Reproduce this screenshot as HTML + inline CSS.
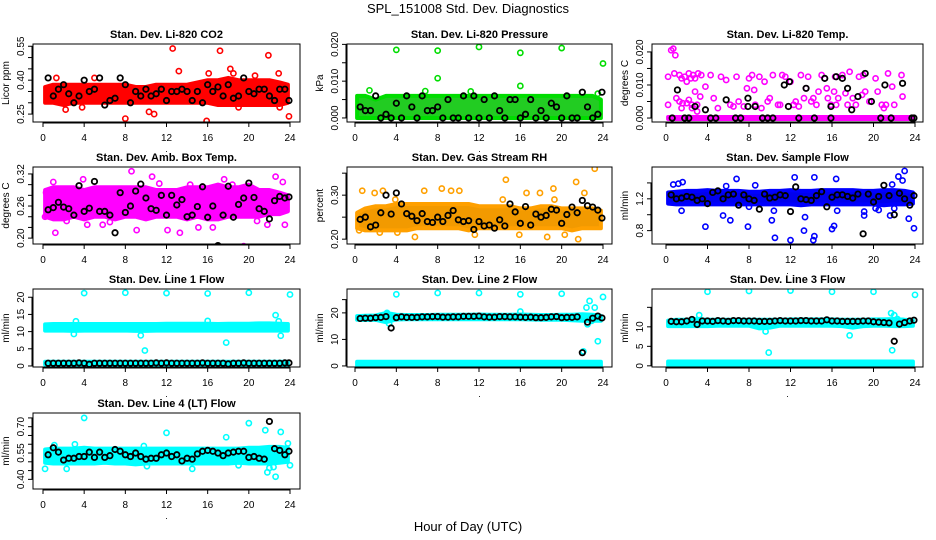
<!DOCTYPE html>
<html><head><meta charset="utf-8"><style>
html,body{margin:0;padding:0;background:#fff;}
svg{display:block;font-family:"Liberation Sans",sans-serif;}
</style></head><body>
<svg id="chart" width="936" height="540" viewBox="0 0 936 540">
<rect width="936" height="540" fill="#fff"/>
<text x="468" y="13" text-anchor="middle" font-size="13">SPL_151008  Std. Dev. Diagnostics</text>
<text x="468" y="531" text-anchor="middle" font-size="13">Hour of Day (UTC)</text>
</svg>
<script>
// ---------- data ----------
const bandHours = [0,1,2,3,4,5,6,7,8,9,10,11,12,13,14,15,16,17,18,19,20,21,22,23,24];
const xTicks = [0,4,8,12,16,20,24];

const co2Lo = [0.30,0.30,0.29,0.30,0.30,0.30,0.30,0.30,0.30,0.30,0.30,0.30,0.30,0.30,0.30,0.30,0.30,0.29,0.29,0.29,0.29,0.29,0.29,0.29,0.30];
const co2Hi = [0.37,0.38,0.38,0.38,0.38,0.38,0.38,0.38,0.38,0.37,0.37,0.38,0.38,0.38,0.38,0.39,0.40,0.40,0.41,0.40,0.40,0.40,0.40,0.39,0.38];
const co2OutX = [12.6,17.2,21.9,13.2,18.2,8,15.9,23.9,10.3,10.8,2.2,3.8,19,23,5,1.3,18.5,16.1,20.6,22.9];
const co2OutY = [0.54,0.53,0.51,0.44,0.45,0.23,0.22,0.24,0.26,0.25,0.27,0.28,0.28,0.28,0.41,0.41,0.43,0.43,0.42,0.43];
const co2Blk = [0.41,0.33,0.36,0.38,0.34,0.30,0.33,0.40,0.35,0.36,0.41,0.29,0.31,0.32,0.41,0.38,0.30,0.35,0.33,0.36,0.33,0.34,0.36,0.31,0.35,0.35,0.36,0.35,0.31,0.35,0.30,0.38,0.35,0.37,0.33,0.38,0.32,0.33,0.41,0.35,0.34,0.36,0.36,0.33,0.31,0.36,0.36,0.31];

const presLo = [0,0,0,0,0,0,0,0,0,0,0,0,0,0,0,0,0,0,0,0,0,0,0,0,0];
const presHi = [0.006,0.006,0.005,0.006,0.006,0.006,0.006,0.006,0.006,0.006,0.006,0.006,0.006,0.006,0.006,0.006,0.006,0.006,0.006,0.006,0.006,0.006,0.006,0.006,0.005];
const presOutX = [4,8,12,16,20,24,8,16,1.4,23.5,6.8,11.2];
const presOutY = [0.0185,0.0183,0.0193,0.0177,0.019,0.0148,0.0108,0.0087,0.0075,0.0066,0.0073,0.0072];
const presBlk = [0.003,0.002,0.002,0.006,0,0.001,0,0.004,0,0.006,0.003,0,0.006,0.002,0.002,0.003,0,0.005,0,0,0.006,0,0.006,0,0.005,0,0.006,0.002,0,0.005,0.005,0,0.001,0.005,0,0.002,0,0.004,0.003,0,0.006,0,0,0.007,0.003,0,0.001,0.007];

const tempLo = [-0.0003,-0.0003,-0.0003,-0.0003,-0.0003,-0.0003,-0.0003,-0.0003,-0.0003,-0.0003,-0.0003,-0.0003,-0.0003,-0.0003,-0.0003,-0.0003,-0.0003,-0.0003,-0.0003,-0.0003,-0.0003,-0.0003,-0.0003,-0.0003,-0.0003];
const tempHi = [0.0003,0.0003,0.0003,0.0003,0.0003,0.0003,0.0003,0.0003,0.0003,0.0003,0.0003,0.0003,0.0003,0.0003,0.0003,0.0003,0.0003,0.0003,0.0003,0.0003,0.0003,0.0003,0.0003,0.0003,0.0003];
const tempOutX = [0.5,0.7,0.9,0.2,0.2,0.8,1.3,1.5,1.8,2,2.2,2.4,2.6,2.8,3.1,3.4,1,1.3,1.6,2,2.2,2.5,3,1.5,2.5,3.3,3.8,4.3,4.6,5,5.3,5.8,6.2,6.5,6.8,7,7.5,7.8,8,8.3,8.6,9,9.5,9.8,10.3,10.8,11.2,11.5,12,12.3,12.8,13,13.3,13.7,14,14.5,15,15.3,15.6,15.9,16.3,16.6,17,17.3,17.7,18,18.3,18.6,18.9,19,19.2,20.2,20.4,20.8,21,21.4,21.8,22,22.7,22.8,14.7,15.5,16.4,3,13.5,16.2,2.8,8.5,9.2,10,11,12.5,14.2,17.5,19.6,21.2];
const tempOutY = [0.0205,0.021,0.019,0.0125,0.004,0.0135,0.013,0.012,0.0125,0.011,0.0135,0.012,0.013,0.012,0.0135,0.013,0.006,0.005,0.0045,0.0045,0.0055,0.004,0.004,0.003,0.003,0.0065,0.0095,0.013,0.006,0.003,0.0125,0.0115,0.004,0.0035,0.0125,0.005,0.0035,0.009,0.012,0.013,0.004,0.0125,0.011,0.005,0.013,0.004,0.013,0.0125,0.011,0.004,0.0035,0.013,0.006,0.0125,0.005,0.004,0.013,0.012,0.006,0.004,0.0125,0.006,0.013,0.0075,0.014,0.006,0.004,0.0125,0.007,0.013,0.008,0.012,0.008,0.004,0.003,0.0135,0.0095,0.004,0.013,0.0065,0.008,0.009,0.004,0.002,0.009,0.008,0.008,0.0085,0.003,0.006,0.004,0.005,0.006,0.004,0.005,0.004];
const tempBlkX = [0.6,1.1,1.8,2.2,2.8,3.8,4.3,4.8,5.8,6.7,7.2,7.9,7.9,8.6,9.3,9.8,10.3,11.4,11.9,11.8,12.8,13.5,14.3,15.3,15.9,15.9,16.4,17,17.5,17.9,18.5,19.2,19.8,20.7,21.1,21.7,22.8,23.7,24];
const tempBlkY = [0,0.0085,0,0,0.0035,0.0025,0,0,0.0055,0,0,0.006,0.0035,0.0035,0,0,0,0.01,0.011,0.0035,0,0.009,0,0.012,0.0035,0,0.0125,0.012,0.009,0.0025,0.0065,0.0135,0.005,0,0.01,0,0.0105,0,0];

const ambLo = [0.24,0.235,0.235,0.24,0.235,0.24,0.24,0.235,0.24,0.24,0.235,0.24,0.24,0.24,0.235,0.24,0.235,0.235,0.24,0.24,0.24,0.24,0.245,0.245,0.25];
const ambHi = [0.29,0.295,0.295,0.295,0.29,0.295,0.295,0.295,0.295,0.295,0.295,0.29,0.29,0.29,0.295,0.295,0.295,0.30,0.295,0.295,0.30,0.29,0.29,0.285,0.28];
const ambOutX = [1,0.3,3.9,8.6,10.6,17.6,22.6,23.3,1.2,4.3,9.1,12.1,13.3,15.1,16.5,19.5,21.8,23.5,0.2,5.8,14.3,18.4,2.3,6.5,11.3,20.8];
const ambOutY = [0.305,0.285,0.31,0.325,0.315,0.31,0.315,0.305,0.21,0.225,0.215,0.215,0.21,0.22,0.22,0.185,0.225,0.225,0.24,0.225,0.30,0.30,0.232,0.23,0.302,0.232];
const ambBlk = [0.253,0.257,0.267,0.258,0.255,0.243,0.298,0.25,0.256,0.306,0.25,0.25,0.243,0.21,0.285,0.248,0.26,0.288,0.301,0.275,0.255,0.252,0.28,0.243,0.28,0.262,0.272,0.24,0.243,0.259,0.296,0.239,0.26,0.186,0.243,0.297,0.239,0.263,0.275,0.303,0.276,0.255,0.25,0.236,0.27,0.278,0.275,0.277];

const rhLo = [0.225,0.22,0.22,0.22,0.22,0.22,0.225,0.225,0.225,0.225,0.225,0.22,0.225,0.225,0.225,0.225,0.225,0.225,0.225,0.225,0.225,0.22,0.225,0.225,0.225];
const rhHi = [0.26,0.27,0.275,0.275,0.28,0.28,0.28,0.28,0.28,0.28,0.28,0.28,0.275,0.275,0.275,0.275,0.27,0.27,0.275,0.275,0.27,0.27,0.27,0.27,0.265];
const rhOutX = [0.7,1.9,2.7,6.7,8.4,9.3,10.1,14.6,16.6,17.9,19.2,21.4,22.2,23.2,5.8,18.6,21.6,20.3,4.1,11.6,0.4,2.4,15.9,3.9,14.3,19.3];
const rhOutY = [0.31,0.305,0.31,0.31,0.315,0.31,0.31,0.335,0.305,0.305,0.315,0.33,0.305,0.36,0.205,0.205,0.2,0.21,0.215,0.21,0.22,0.215,0.21,0.29,0.29,0.29];
const rhBlk = [0.245,0.25,0.228,0.232,0.26,0.30,0.257,0.305,0.28,0.258,0.252,0.242,0.258,0.24,0.238,0.25,0.24,0.254,0.265,0.244,0.24,0.242,0.222,0.24,0.23,0.232,0.225,0.244,0.23,0.28,0.262,0.236,0.274,0.232,0.257,0.25,0.254,0.268,0.266,0.236,0.256,0.273,0.26,0.288,0.276,0.273,0.266,0.248];

const sfLo = [1.14,1.13,1.13,1.13,1.13,1.13,1.13,1.13,1.13,1.13,1.13,1.13,1.13,1.12,1.13,1.13,1.13,1.13,1.13,1.13,1.13,1.12,1.13,1.13,1.14];
const sfHi = [1.28,1.29,1.30,1.30,1.31,1.30,1.30,1.30,1.29,1.29,1.30,1.30,1.31,1.30,1.30,1.31,1.31,1.31,1.31,1.30,1.30,1.31,1.31,1.30,1.28];
const sfOutX = [0.7,1.2,1.6,5.8,6.8,8.6,12.4,14.3,16.4,21.8,22.4,22.8,23,3.8,5.5,6.2,7.9,10.2,10.5,12,13.4,13.3,14.2,14.3,16,16.2,19.1,20.5,21.6,23.4,23.9,1.5,10.4,16.5,19.1,20.2,8,22];
const sfOutY = [1.38,1.39,1.41,1.36,1.45,1.37,1.47,1.47,1.45,1.38,1.48,1.43,1.55,0.85,0.99,0.93,0.85,0.93,0.71,0.68,0.97,0.8,0.68,0.73,0.82,0.86,0.99,1.06,0.99,0.95,0.83,1.05,1.05,1.05,1.04,1.08,1.1,1.08];
const sfBlk = [1.25,1.2,1.21,1.23,1.22,1.18,1.2,1.14,1.28,1.3,1.2,1.25,1.26,1.12,1.25,1.2,1.18,1.07,1.26,1.21,1.22,1.25,1.24,1.04,1.35,1.2,1.19,1.18,1.24,1.29,1.1,1.22,1.25,1.25,1.23,1.21,1.26,0.76,1.26,1.16,1.23,1.37,1.24,1.0,1.27,1.2,1.12,1.24];

const l1Lo = [10.3,10.3,10.3,10.2,10.3,10.3,10.3,10.3,10.3,10.2,10.2,10.3,10.3,10.3,10.3,10.3,10.3,10.3,10.3,10.3,10.3,10.3,10.3,10.3,10.3];
const l1Hi = [12.1,12.2,12.2,12.2,12.2,12.2,12.2,12.2,12.2,12.2,12.2,12.2,12.3,12.3,12.3,12.3,12.3,12.2,12.3,12.3,12.3,12.4,12.4,12.3,12.2];
const l1ZeroLo = [0.4,0.4,0.4,0.4,0.4,0.4,0.4,0.4,0.4,0.4,0.4,0.4,0.4,0.4,0.4,0.4,0.4,0.4,0.4,0.4,0.4,0.4,0.4,0.4,0.4];
const l1ZeroHi = [1.2,1.2,1.2,1.2,1.2,1.2,1.2,1.2,1.2,1.2,1.2,1.2,1.2,1.2,1.2,1.2,1.2,1.2,1.2,1.2,1.2,1.2,1.2,1.2,1.2];
const l1OutX = [4,8,12,16,20,24,22.6,3,9.5,9.9,17.8,23.1,16,3.2,22.9];
const l1OutY = [21.2,21.3,21.2,21.1,21.3,20.8,14.8,9.3,8.9,4.5,6.8,8.8,13.1,13,13];
const l1Blk = [0.8,0.8,0.8,0.8,0.8,0.8,0.9,0.8,0.5,0.8,0.8,0.8,0.8,0.8,0.8,0.8,0.8,0.8,0.8,0.8,0.8,0.9,0.8,0.9,0.8,0.8,0.8,0.8,0.8,0.8,0.9,0.8,0.8,0.8,0.8,0.6,0.8,0.8,0.9,0.8,0.8,0.8,0.8,0.8,0.8,0.8,0.9,0.9];

const l2Lo = [17.4,17.3,17.4,16.5,17.5,17.6,17.6,17.6,17.6,17.6,17.6,17.6,17.6,17.6,17.6,17.6,17.6,17.5,17.4,17.4,17.4,17.2,17,17,17];
const l2Hi = [18.8,18.9,19.0,20.0,19.3,19.2,19.2,19.2,19.3,19.3,19.3,19.3,19.4,19.3,19.3,19.3,19.4,19.3,19.2,19.2,19.3,19.3,19.5,19.3,18.9];
const l2ZeroLo = [0,0,0,0,0,0,0,0,0,0,0,0,0,0,0,0,0,0,0,0,0,0,0,0,0];
const l2ZeroHi = [1.6,1.6,1.6,1.6,1.6,1.6,1.6,1.6,1.6,1.6,1.6,1.6,1.6,1.6,1.6,1.6,1.6,1.6,1.6,1.6,1.6,1.6,1.6,1.6,1.6];
const l2OutX = [4,8,12,16,20,24,22.1,22.7,23.2,22.4,23.5,3.1,3.3,22.5,22.9,16];
const l2OutY = [27,27.5,27.5,27,27.2,26,5.5,24.5,22,22,9.3,20,16,15.7,17,20.5];
const l2Blk = [17.9,18,18,18.2,18.3,18.6,14.3,18.2,18.5,18.3,18.3,18.3,18.5,18.5,18.6,18.6,18.4,18.4,18.5,18.5,18.7,18.7,18.7,18.8,18.5,18.4,18.4,18.6,18.6,18.5,18.5,18.4,18.3,18.4,18.2,18.2,18.3,18.5,18.6,18.2,18.3,18.3,18.5,5,16.5,18,18.8,18.1];

const l3Lo = [10.2,10.2,10.2,10.2,10.2,10.3,10.3,10.3,10.3,9.6,9.8,10.3,10.3,10.3,10.3,10.3,10.3,10.2,9.8,10.2,10.3,10.3,10.2,10.2,10.3];
const l3Hi = [11.6,11.8,11.8,12.0,11.8,11.8,11.8,11.8,11.8,11.8,11.8,11.8,11.9,11.9,11.9,11.9,11.9,11.8,11.8,11.8,11.9,11.9,12.0,11.8,11.7];
const l3ZeroLo = [0.2,0.2,0.2,0.2,0.2,0.2,0.2,0.2,0.2,0.2,0.2,0.2,0.2,0.2,0.2,0.2,0.2,0.2,0.2,0.2,0.2,0.2,0.2,0.2,0.2];
const l3ZeroHi = [1.1,1.1,1.1,1.1,1.1,1.1,1.1,1.1,1.1,1.1,1.1,1.1,1.1,1.1,1.1,1.1,1.1,1.1,1.1,1.1,1.1,1.1,1.1,1.1,1.1];
const l3OutX = [4,8,12,16,20,24,3.2,9.6,9.9,17.7,21.8,21.7,22,22.3,22.8];
const l3OutY = [19,19.2,19.3,19,19,18.2,13,8.8,3.4,7.8,4,13.5,13,12,11.5];
const l3Blk = [11.4,11.3,11.3,11.5,11.9,10.6,11.5,11.5,11.4,11.6,11.5,11.4,11.6,11.6,11.5,11.5,11.5,11.4,11.4,11.4,11.5,11.6,11.5,11.5,11.5,11.6,11.6,11.5,11.5,11.5,11.8,11.5,11.5,11.4,11.4,11.4,11.4,11.5,11.5,11.3,11.2,11.1,11.0,6.3,10.7,11.1,11.5,11.7];

const l4Lo = [0.495,0.49,0.49,0.49,0.49,0.49,0.495,0.49,0.49,0.485,0.49,0.49,0.49,0.49,0.49,0.49,0.49,0.49,0.49,0.495,0.49,0.49,0.49,0.495,0.5];
const l4Hi = [0.57,0.575,0.575,0.575,0.58,0.575,0.575,0.575,0.575,0.575,0.575,0.575,0.575,0.575,0.575,0.575,0.575,0.575,0.575,0.575,0.58,0.58,0.585,0.585,0.58];
const l4OutX = [4,12,20,17.8,21.6,23.1,1.1,3.1,9.8,21.8,22,22.4,22.6,0.2,2.3,14.5,24,23.8,10.1,19];
const l4OutY = [0.75,0.665,0.72,0.64,0.68,0.67,0.595,0.60,0.59,0.44,0.465,0.47,0.415,0.46,0.46,0.46,0.48,0.605,0.475,0.48];
const l4Blk = [0.54,0.58,0.555,0.51,0.52,0.52,0.53,0.53,0.555,0.525,0.555,0.525,0.535,0.57,0.56,0.54,0.53,0.55,0.53,0.515,0.52,0.52,0.54,0.55,0.53,0.54,0.505,0.52,0.515,0.545,0.56,0.565,0.56,0.55,0.535,0.55,0.555,0.56,0.56,0.525,0.53,0.52,0.515,0.73,0.575,0.565,0.54,0.56];

// ---------- drawing ----------
const NS = 'http://www.w3.org/2000/svg';
const svg = document.getElementById('chart');
const colX = [[33,300,43,290],[347,612,355,603],[652,923,666,915]];
const rowY = [[44,122],[167,244],[289,367],[413,489]];

function mk(tag, attrs, parent){
  const e = document.createElementNS(NS, tag);
  for (const k in attrs) e.setAttribute(k, attrs[k]);
  (parent||svg).appendChild(e);
  return e;
}

function panel(cfg){
  const [bl, br, x0, x24] = colX[cfg.col];
  const [bt, bb] = rowY[cfg.row];
  const g = mk('g', {});
  
  
  const sx = h => x0 + (h/24)*(x24-x0);
  const sy = v => bb - (v-cfg.lo)/(cfg.hi-cfg.lo)*(bb-bt);
  const cx = h => sx(Math.min(23.8, Math.max(0.2, h)));
  const clipId = 'clip' + cfg.col + cfg.row;
  const cp = mk('clipPath', {id: clipId}, g);
  mk('rect', {x: bl, y: bt, width: br-bl, height: bb-bt}, cp);
  const pg = mk('g', {'clip-path': 'url(#' + clipId + ')'}, g);
  
  

  function band(lo, hi, nm){
    let d = '';
    bandHours.forEach((h,i) => { d += (i ? 'L' : 'M') + cx(h).toFixed(1) + ',' + sy(hi[i]).toFixed(1); });
    for (let i = bandHours.length-1; i >= 0; i--) d += 'L' + cx(bandHours[i]).toFixed(1) + ',' + sy(lo[i]).toFixed(1);
    d += 'Z';
    const p = mk('path', {d: d, fill: cfg.fill, stroke: cfg.color, 'stroke-width': 4, 'stroke-linejoin': 'round'}, pg);
    
    
  }
  band(cfg.bandLo, cfg.bandHi, 'dense-band');
  if (cfg.zeroLo) band(cfg.zeroLo, cfg.zeroHi, 'zero-band');

  cfg.outX.forEach((h,i) => {
    const c = mk('circle', {cx: sx(h), cy: sy(cfg.outY[i]), r: 2.6, fill: 'none', stroke: cfg.color, 'stroke-width': 1.6}, pg);
    
    
  });
  const bx = cfg.blkX || cfg.blk.map((v,i) => (i+1)*0.5);
  const by = cfg.blkY || cfg.blk;
  bx.forEach((h,i) => {
    const c = mk('circle', {cx: sx(Math.min(23.9,h)), cy: sy(by[i]), r: 2.7, fill: 'none', stroke: '#000', 'stroke-width': 1.8}, pg);
    
    
  });

  const box = mk('rect', {x: bl, y: bt, width: br-bl, height: bb-bt, fill: 'none', stroke: '#000', 'stroke-width': 1}, g);
  
  

  const t = mk('text', {x: (bl+br)/2, y: bt-6, 'text-anchor': 'middle', 'font-size': 11, 'font-weight': 'bold'}, g);
  t.textContent = cfg.title;
  
  

  // x axis
  mk('line', {x1: sx(0), x2: sx(24), y1: bb+1, y2: bb+1, stroke: '#000'}, g);
  xTicks.forEach(h => {
    mk('line', {x1: sx(h), x2: sx(h), y1: bb, y2: bb+5, stroke: '#000'}, g);
    const tl = mk('text', {x: sx(h), y: bb+19, 'text-anchor': 'middle', 'font-size': 10}, g);
    tl.textContent = h;
    
    
  });
  const dot = mk('text', {x: (bl+br)/2, y: bb+30, 'text-anchor': 'middle', 'font-size': 9}, g);
  dot.textContent = '.';
  
  

  // y axis
  const yt0 = sy(cfg.ticks[0]), yt1 = sy(cfg.ticks[cfg.ticks.length-1]);
  mk('line', {x1: bl-1, x2: bl-1, y1: yt0, y2: yt1, stroke: '#000'}, g);
  cfg.ticks.forEach(v => {
    mk('line', {x1: bl-5, x2: bl, y1: sy(v), y2: sy(v), stroke: '#000'}, g);
  });
  cfg.labels.forEach((s) => {
    const y = sy(parseFloat(s));
    const tl = mk('text', {x: bl-9, y: y, 'text-anchor': 'middle', 'font-size': 10, transform: 'rotate(-90 ' + (bl-9) + ' ' + y + ')'}, g);
    tl.textContent = s;
    
    
  });
  const ym = (bt+bb)/2;
  const yl = mk('text', {x: bl-24, y: ym, 'text-anchor': 'middle', 'font-size': 10, transform: 'rotate(-90 ' + (bl-24) + ' ' + ym + ')'}, g);
  yl.textContent = cfg.ylab;
  
  
}

panel({name:'panel-co2', col:0,row:0,title:'Stan. Dev. Li-820 CO2',ylab:'Licor ppm',lo:0.215,hi:0.56,
  ticks:[0.25,0.3,0.35,0.4,0.45,0.5,0.55],labels:['0.25','0.40','0.55'],color:'#ff0000',fill:'#ff0000',
  bandLo:co2Lo,bandHi:co2Hi,outX:co2OutX,outY:co2OutY,blk:co2Blk});
panel({name:'panel-pressure', col:1,row:0,title:'Stan. Dev. Li-820 Pressure',ylab:'kPa',lo:-0.0011,hi:0.0201,
  ticks:[0,0.005,0.01,0.015,0.02],labels:['0.000','0.010','0.020'],color:'#00dd00',fill:'#22cc22',
  bandLo:presLo,bandHi:presHi,outX:presOutX,outY:presOutY,blk:presBlk});
panel({name:'panel-temp', col:2,row:0,title:'Stan. Dev. Li-820 Temp.',ylab:'degrees C',lo:-0.0012,hi:0.0224,
  ticks:[0,0.005,0.01,0.015,0.02],labels:['0.000','0.010','0.020'],color:'#ff00ff',fill:'#ff00ff',
  bandLo:tempLo,bandHi:tempHi,outX:tempOutX,outY:tempOutY,blkX:tempBlkX,blkY:tempBlkY});
panel({name:'panel-amb-temp', col:0,row:1,title:'Stan. Dev. Amb. Box Temp.',ylab:'degrees C',lo:0.189,hi:0.333,
  ticks:[0.2,0.22,0.24,0.26,0.28,0.3,0.32],labels:['0.20','0.26','0.32'],color:'#ff00ff',fill:'#ff00ff',
  bandLo:ambLo,bandHi:ambHi,outX:ambOutX,outY:ambOutY,blk:ambBlk});
panel({name:'panel-rh', col:1,row:1,title:'Stan. Dev. Gas Stream RH',ylab:'percent',lo:0.189,hi:0.364,
  ticks:[0.2,0.25,0.3,0.35],labels:['0.20','0.30'],color:'#ffa000',fill:'#f29a00',
  bandLo:rhLo,bandHi:rhHi,outX:rhOutX,outY:rhOutY,blk:rhBlk});
panel({name:'panel-sample-flow', col:2,row:1,title:'Stan. Dev. Sample Flow',ylab:'ml/min',lo:0.632,hi:1.6,
  ticks:[0.8,1.0,1.2,1.4],labels:['0.8','1.2'],color:'#0000ff',fill:'#0000ee',
  bandLo:sfLo,bandHi:sfHi,outX:sfOutX,outY:sfOutY,blk:sfBlk});
panel({name:'panel-line1', col:0,row:2,title:'Stan. Dev. Line 1 Flow',ylab:'ml/min',lo:-0.3,hi:22.4,
  ticks:[0,5,10,15,20],labels:['0','5','10','15','20'],color:'#00ffff',fill:'#00ffff',
  bandLo:l1Lo,bandHi:l1Hi,zeroLo:l1ZeroLo,zeroHi:l1ZeroHi,outX:l1OutX,outY:l1OutY,blk:l1Blk});
panel({name:'panel-line2', col:1,row:2,title:'Stan. Dev. Line 2 Flow',ylab:'ml/min',lo:-0.4,hi:29,
  ticks:[0,10,20,25],labels:['0','10','20'],color:'#00ffff',fill:'#00ffff',
  bandLo:l2Lo,bandHi:l2Hi,zeroLo:l2ZeroLo,zeroHi:l2ZeroHi,outX:l2OutX,outY:l2OutY,blk:l2Blk});
panel({name:'panel-line3', col:2,row:2,title:'Stan. Dev. Line 3 Flow',ylab:'ml/min',lo:-0.3,hi:19.7,
  ticks:[0,5,10,15],labels:['0','5','10'],color:'#00ffff',fill:'#00ffff',
  bandLo:l3Lo,bandHi:l3Hi,zeroLo:l3ZeroLo,zeroHi:l3ZeroHi,outX:l3OutX,outY:l3OutY,blk:l3Blk});
panel({name:'panel-line4', col:0,row:3,title:'Stan. Dev. Line 4 (LT) Flow',ylab:'ml/min',lo:0.345,hi:0.778,
  ticks:[0.4,0.45,0.5,0.55,0.6,0.65,0.7,0.75],labels:['0.40','0.55','0.70'],color:'#00ffff',fill:'#00ffff',
  bandLo:l4Lo,bandHi:l4Hi,outX:l4OutX,outY:l4OutY,blk:l4Blk});
</script>
</body></html>
